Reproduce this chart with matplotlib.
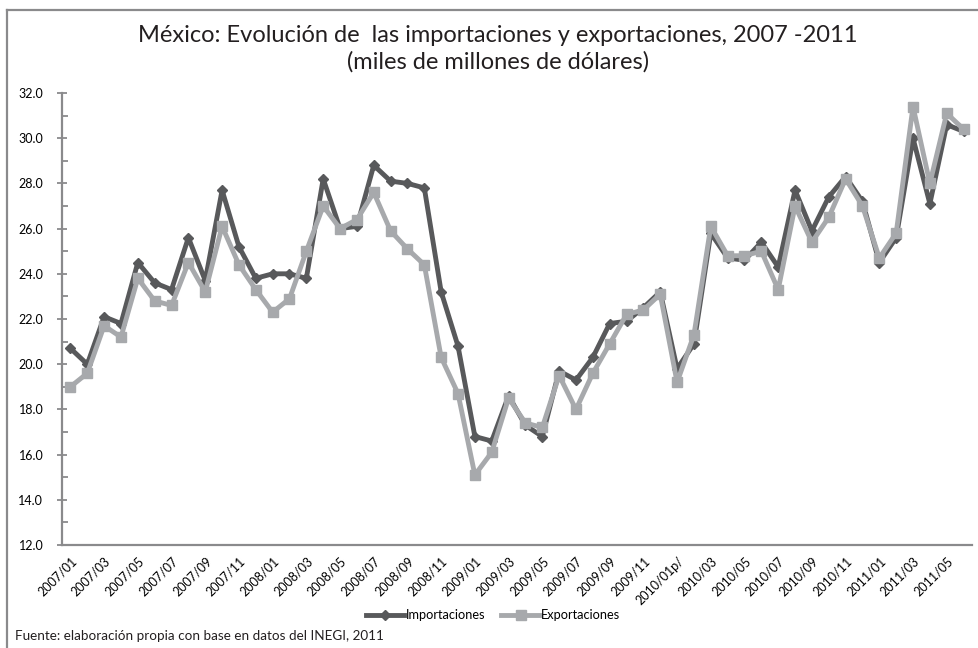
import matplotlib
matplotlib.use("Agg")
import matplotlib.pyplot as plt
from matplotlib.lines import Line2D
from matplotlib.ticker import MultipleLocator
import numpy as np

plt.rcParams['font.family'] = ['Lato', 'DejaVu Sans']

## monthly data, 2007/01 - 2011/06 (miles de millones de dolares)
months = [f"{y}/{m:02d}" for y in range(2007, 2012) for m in range(1, 13)][:54]
importaciones = [20.7, 20.0, 22.1, 21.8, 24.5, 23.6, 23.3, 25.6, 23.7, 27.7, 25.2, 23.8,
                 24.0, 24.0, 23.8, 28.2, 26.0, 26.1, 28.8, 28.1, 28.0, 27.8, 23.2, 20.8,
                 16.8, 16.6, 18.6, 17.3, 16.8, 19.7, 19.3, 20.3, 21.8, 21.9, 22.5, 23.2,
                 19.8, 20.9, 25.8, 24.7, 24.6, 25.4, 24.3, 27.7, 25.9, 27.4, 28.3, 27.2,
                 24.5, 25.6, 30.0, 27.1, 30.6, 30.3]
exportaciones = [19.0, 19.6, 21.7, 21.2, 23.8, 22.8, 22.6, 24.5, 23.2, 26.1, 24.4, 23.3,
                 22.3, 22.9, 25.0, 27.0, 26.0, 26.4, 27.6, 25.9, 25.1, 24.4, 20.3, 18.7,
                 15.1, 16.1, 18.5, 17.4, 17.2, 19.5, 18.0, 19.6, 20.9, 22.2, 22.4, 23.1,
                 19.2, 21.3, 26.1, 24.8, 24.8, 25.0, 23.3, 27.0, 25.4, 26.5, 28.2, 27.0,
                 24.7, 25.8, 31.4, 28.0, 31.1, 30.4]
tick_labels = [m + ("p/" if m == "2010/01" else "") for m in months[::2]]

dark = "#58595b"
light = "#a7a9ac"
axis_col = "#8a8a8c"

x = np.arange(len(months))

fig = plt.figure(figsize=(9.79, 6.48), dpi=100)
ax = fig.add_axes([62/979, 1-545/648, 910/979, 452/648])

ax.plot(x, importaciones, color=dark, lw=3.5, marker="D", ms=5, zorder=2, label="Importaciones")
ax.plot(x, exportaciones, color=light, lw=3.5, marker="s", ms=7.5, zorder=3, label="Exportaciones")

ax.set_xlim(-0.5, len(months) - 0.5)
ax.set_ylim(12, 32)
ax.yaxis.set_major_locator(MultipleLocator(2))
ax.yaxis.set_minor_locator(MultipleLocator(1))
ax.set_yticklabels([f"{v:.1f}" for v in ax.get_yticks()])
ax.set_xticks(x[::2])
ax.set_xticklabels(tick_labels, rotation=45, ha="right", rotation_mode="anchor", fontsize=9)
ax.tick_params(axis="x", length=0, pad=7)
ax.tick_params(axis="y", which="major", direction="inout", length=7, width=1.3,
               color=axis_col, labelsize=9, pad=10)
ax.tick_params(axis="y", which="minor", direction="in", length=4, width=1.3, color=axis_col)

for s in ["top", "right"]:
    ax.spines[s].set_visible(False)
for s in ["left", "bottom"]:
    ax.spines[s].set_color(axis_col)
    ax.spines[s].set_linewidth(1.6)

# title
fig.text(498/979, 1-35/648, "México: Evolución de  las importaciones y exportaciones, 2007 -2011",
         ha="center", va="center", fontsize=17, color="#231f20")
fig.text(498/979, 1-62/648, "(miles de millones de dólares)",
         ha="center", va="center", fontsize=17, color="#231f20")

# legend
fig.legend(handles=ax.get_lines(), loc="center", bbox_to_anchor=(493/979, 1-615/648),
           ncol=2, frameon=False, fontsize=9.2, handlelength=3.0, handletextpad=0.1,
           columnspacing=1.3)

fig.text(15/979, 1-636/648, "Fuente: elaboración propia con base en datos del INEGI, 2011",
         ha="left", va="center", fontsize=9.7, color="#231f20")

# outer frame (left and top only visible)
fig.add_artist(Line2D([7/979, 7/979], [0, 1-10/648], color=axis_col, lw=1.6, transform=fig.transFigure))
fig.add_artist(Line2D([7/979, 1], [1-10/648, 1-10/648], color=axis_col, lw=1.6, transform=fig.transFigure))

fig.savefig("out.png", dpi=100)
